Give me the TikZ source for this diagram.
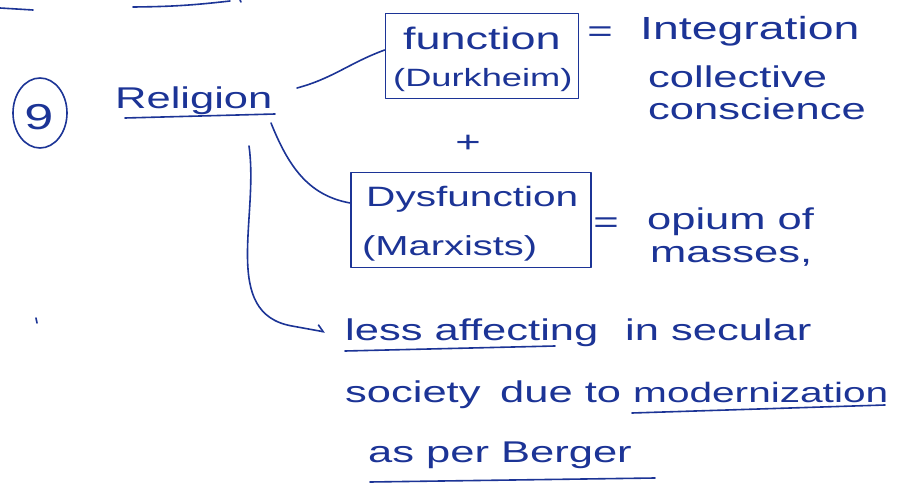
\documentclass[tikz,border=0pt]{standalone}
\usepackage{fontspec}
\setmainfont{Liberation Sans}[FakeStretch=1.45]
\usetikzlibrary{shapes.geometric,arrows.meta}
\definecolor{ink}{RGB}{28,52,150}
\tikzset{
  pen/.style={draw=ink, line width=1.6pt, line cap=round, line join=round},
  hw/.style={text=ink, inner sep=0pt, anchor=base west, font=\fontsize{30}{36}\selectfont},
  hwbox/.style={pen, inner sep=0pt},
}
\begin{document}
\begin{tikzpicture}[x=1pt,y=-1pt]
\useasboundingbox (0,0) rectangle (900,489);
\fill[white] (0,0) rectangle (900,489);
% stray marks from the previous page part
\draw[pen] (0,8) -- (33,10);
\draw[pen] (133,7) to[bend right=3] (230,1);
\draw[pen] (240,0) -- (241,2);
\draw[pen] (36,318) -- (37,323);
% question number
\node[ellipse, pen, minimum width=54, minimum height=70, inner sep=0pt] (q) at (40,113) {};
\node[hw, anchor=center, font=\fontsize{36}{40}\selectfont] (qn) at (39,117) {9};
% Religion
\node[hw] (rel) at (115,109) {Religion};
\draw[pen] (125,118) -- (275,114);
% box 1
\node[hwbox, minimum width=193, minimum height=85] (f1) at (482,56) {};
\node[hw, font=\fontsize{31}{36}\selectfont] (f1a) at (403,50) {function};
\node[hw, font=\fontsize{25}{36}\selectfont] (f1b) at (393,87) {(Durkheim)};
\node[hw, anchor=center] (eq1) at (600,34) {=};
\node[hw, font=\fontsize{32}{36}\selectfont] (int) at (640,40) {Integration};
\node[hw] (col) at (648,88) {collective};
\node[hw] (con) at (648,120) {conscience};
\node[hw, anchor=center] (plus) at (468,144) {+};
% box 2
\node[hwbox, minimum width=240, minimum height=95] (f2) at (471,220) {};
\node[hw, font=\fontsize{28}{36}\selectfont] (f2a) at (366,207) {Dysfunction};
\node[hw, font=\fontsize{27.5}{36}\selectfont] (f2b) at (362,255) {(Marxists)};
\node[hw, anchor=center] (eq2) at (606,225) {=};
\node[hw] (op) at (647,230) {opium of};
\node[hw] (mas) at (650,263) {masses,};
% connectors
\coordinate (r1) at (297,88);
\draw[pen] (r1) to[out=15,in=200] (f1.west |- 0,50);
\coordinate (r2) at (271,123);
\draw[pen] (r2) to[out=-68,in=170] (f2.west |- 0,203);
% Berger branch
\node[hw] (les1) at (345,340) {less affecting};
\draw[pen] (345,351) -- (555,346);
\node[hw] (les2) at (625,340) {in secular};
\node[hw] (soc1) at (345,402) {society};
\node[hw] (soc2) at (500,402) {due to};
\node[hw, font=\fontsize{28}{36}\selectfont] (soc3) at (633,402) {modernization};
\draw[pen] (632,413) -- (885,405);
\node[hw] (ber) at (368,462) {as per Berger};
\draw[pen] (370,482) -- (655,478);
\coordinate (r3) at (249,146);
\draw[pen, -{Straight Barb[left,length=6pt]}] (r3) to[out=-82,in=170] (292,326) -- (325,332);
\end{tikzpicture}
\end{document}
